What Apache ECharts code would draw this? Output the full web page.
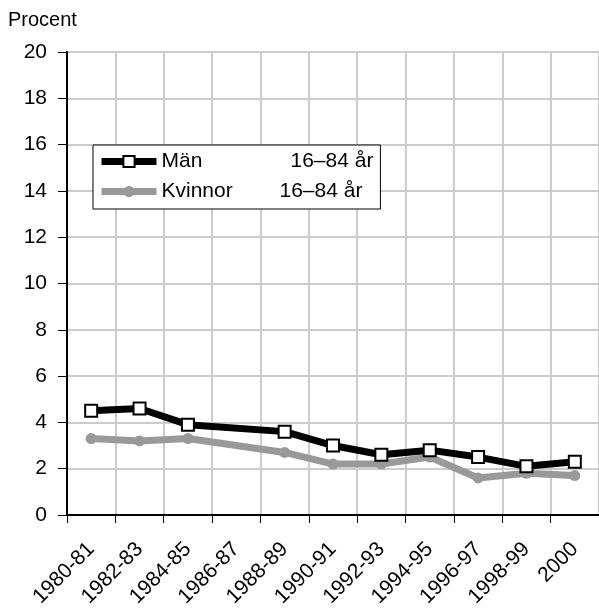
<!DOCTYPE html>
<html>
<head>
<meta charset="utf-8">
<script src="https://cdn.jsdelivr.net/npm/echarts@6/dist/echarts.min.js"></script>
<style>
html,body{margin:0;padding:0;background:#fff;}
#chart{width:599px;height:610px;}
</style>
</head>
<body>
<div id="chart"></div>
<script>
const categories = ['1980-81','1982-83','1984-85','1986-87','1988-89','1990-91','1992-93','1994-95','1996-97','1998-99','2000'];
const manValues = [4.5, 4.6, 3.9, null, 3.6, 3.0, 2.6, 2.8, 2.5, 2.1, 2.3];
const kvinnorValues = [3.3, 3.2, 3.3, null, 2.7, 2.2, 2.2, 2.5, 1.6, 1.8, 1.7];
const seriesNames = ['Män', 'Kvinnor'];
const ageLabel = '16–84 år';
const yTitle = 'Procent';

const FONT = 'Liberation Sans';
const FS = 21;
const chart = echarts.init(document.getElementById('chart'), null, {renderer: 'canvas'});
chart.setOption({
  animation: false,
  backgroundColor: '#fff',
  title: {
    text: yTitle, left: 8, top: 10, padding: 0,
    textStyle: {fontFamily: FONT, fontSize: 20, fontWeight: 'normal', color: '#000'}
  },
  grid: {left: 67, top: 52, right: -10, bottom: 92, show: true, borderColor: '#000', borderWidth: 2, backgroundColor: 'transparent'},
  legend: {
    data: seriesNames,
    orient: 'vertical',
    left: 93, top: 145,
    padding: [6, 7, 7, 5],
    itemGap: 9,
    itemWidth: 55, itemHeight: 14,
    backgroundColor: '#fff',
    borderColor: '#000', borderWidth: 1,
    lineStyle: {width: 7},
    formatter: function (name) {
      return name === 'Män' ? '{m|' + name + '}{r|' + ageLabel + '}' : '{k|' + name + '}{r|' + ageLabel + '}';
    },
    textStyle: {
      fontFamily: FONT, fontSize: FS, color: '#000',
      rich: {
        m: {fontFamily: FONT, fontSize: FS, color: '#000', width: 129, lineHeight: 22},
        k: {fontFamily: FONT, fontSize: FS, color: '#000', width: 118, lineHeight: 22},
        r: {fontFamily: FONT, fontSize: FS, color: '#000', lineHeight: 22}
      }
    }
  },
  xAxis: {
    type: 'category',
    data: categories,
    boundaryGap: true,
    axisLine: {show: true, lineStyle: {color: '#000', width: 2}},
    axisTick: {show: true, alignWithLabel: false, length: 8, lineStyle: {color: '#000', width: 1}},
    axisLabel: {interval: 0, rotate: 45, margin: 31, fontFamily: FONT, fontSize: FS, color: '#000'},
    splitLine: {show: true, interval: 0, lineStyle: {color: '#cccccc', width: 2}}
  },
  yAxis: {
    type: 'value',
    min: 0, max: 20, interval: 2,
    axisLine: {show: true, lineStyle: {color: '#000', width: 2}},
    axisTick: {show: true, length: 9, lineStyle: {color: '#000', width: 1}},
    axisLabel: {margin: 20, fontFamily: FONT, fontSize: FS, color: '#000'},
    splitLine: {show: true, lineStyle: {color: '#cccccc', width: 2}}
  },
  series: [
    {
      name: 'Män', type: 'line', data: manValues, connectNulls: true, z: 3,
      symbol: 'rect', symbolSize: 12, showAllSymbol: true,
      lineStyle: {color: '#000', width: 7},
      itemStyle: {color: '#fff', borderColor: '#000', borderWidth: 2}
    },
    {
      name: 'Kvinnor', type: 'line', data: kvinnorValues, connectNulls: true, z: 2,
      symbol: 'circle', symbolSize: 11, showAllSymbol: true,
      lineStyle: {color: '#999999', width: 7},
      itemStyle: {color: '#999999'}
    }
  ]
});
</script>
</body>
</html>
